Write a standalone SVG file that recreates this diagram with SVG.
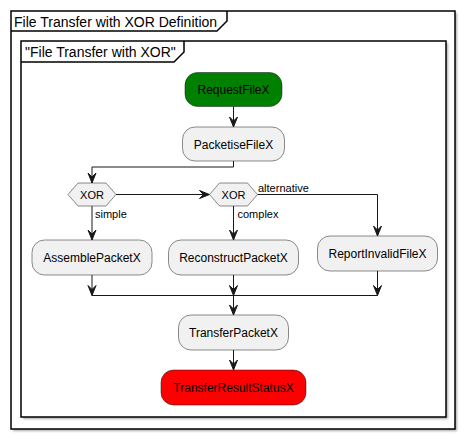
<svg xmlns="http://www.w3.org/2000/svg" width="466" height="439" viewBox="0 0 466 439">
<style>
.frame{fill:#FFFFFF;stroke:#000000;stroke-width:1.5}
.shadow{fill:#888888;opacity:0.7}
.tab{fill:none;stroke:#000000;stroke-width:1.5}
.ttl{font-family:"Liberation Sans",Arial,sans-serif;font-size:14px;fill:#000000}
.box{fill:#F1F1F1;stroke:#181818;stroke-width:0.5}
.lbl{font-family:"Liberation Sans",Arial,sans-serif;font-size:12px;fill:#000000;text-anchor:middle}
.small{font-family:"Liberation Sans",Arial,sans-serif;font-size:11px;fill:#000000}
.line{fill:none;stroke:#181818;stroke-width:1}
.head{fill:#181818;stroke:#181818;stroke-width:1}
</style>
<defs>
<filter id="blur" x="-5%" y="-5%" width="110%" height="110%"><feGaussianBlur stdDeviation="1"/></filter>
</defs>
<rect width="466" height="439" fill="#FFFFFF"/>
<g id="frame-outer">
<rect class="shadow" x="13" y="13" width="444" height="418" filter="url(#blur)"/>
<rect class="frame" x="11" y="11" width="444" height="418"/>
<path class="tab" d="M11,31 L217,31 L227,21 L227,11"/>
<text class="ttl" x="14" y="27">File Transfer with XOR Definition</text>
</g>
<g id="frame-inner">
<rect class="shadow" x="23" y="43" width="425" height="376" filter="url(#blur)"/>
<rect class="frame" x="21" y="41" width="425" height="376"/>
<path class="tab" d="M21,62 L174,62 L184,52 L184,41"/>
<text class="ttl" x="25" y="57">"File Transfer with XOR"</text>
</g>
<g id="connectors">
<path class="line" d="M233.5,106.5 L233.5,127"/>
<polygon class="head" points="229.5,117 233.5,127 237.5,117 233.5,121"/>
<path class="line" d="M233.5,161 L233.5,167 L92,167 L92,183"/>
<polygon class="head" points="88,173 92,183 96,173 92,177"/>
<path class="line" d="M116,194.5 L209.5,194.5"/>
<polygon class="head" points="199.5,190.5 209.5,194.5 199.5,198.5 203.5,194.5"/>
<path class="line" d="M92,206 L92,240"/>
<polygon class="head" points="88,230 92,240 96,230 92,234"/>
<path class="line" d="M233.5,206 L233.5,240"/>
<polygon class="head" points="229.5,230 233.5,240 237.5,230 233.5,234"/>
<path class="line" d="M257.5,194.5 L377.5,194.5 L377.5,236"/>
<polygon class="head" points="373.5,226 377.5,236 381.5,226 377.5,230"/>
<path class="line" d="M92,275 L92,295.5"/>
<polygon class="head" points="88,285.5 92,295.5 96,285.5 92,289.5"/>
<path class="line" d="M233.5,275 L233.5,295.5"/>
<polygon class="head" points="229.5,285.5 233.5,295.5 237.5,285.5 233.5,289.5"/>
<path class="line" d="M377.5,271 L377.5,295.5"/>
<polygon class="head" points="373.5,285.5 377.5,295.5 381.5,285.5 377.5,289.5"/>
<path class="line" d="M92,295.5 L377.5,295.5"/>
<path class="line" d="M233.5,295.5 L233.5,315"/>
<polygon class="head" points="229.5,305 233.5,315 237.5,305 233.5,309"/>
<path class="line" d="M233.5,350 L233.5,370"/>
<polygon class="head" points="229.5,360 233.5,370 237.5,360 233.5,364"/>
<text class="small" x="95" y="218">simple</text>
<text class="small" x="237.5" y="218">complex</text>
<text class="small" x="258" y="192">alternative</text>
</g>
<g id="RequestFileX">
<rect x="185" y="72.5" width="97" height="34" rx="12.5" ry="12.5" fill="#008000" stroke="#181818" stroke-width="0.5"/>
<text class="lbl" x="233.5" y="94">RequestFileX</text>
</g>
<g id="PacketiseFileX">
<rect class="box" x="182.5" y="127" width="102" height="34" rx="12.5" ry="12.5"/>
<text class="lbl" x="233.5" y="148.5">PacketiseFileX</text>
</g>
<g id="XOR1">
<polygon class="box" points="68,194.5 78,183 106,183 116,194.5 106,206 78,206"/>
<text class="small" x="92" y="198.5" text-anchor="middle">XOR</text>
</g>
<g id="XOR2">
<polygon class="box" points="209.5,194.5 219.5,183 247.5,183 257.5,194.5 247.5,206 219.5,206"/>
<text class="small" x="233.5" y="198.5" text-anchor="middle">XOR</text>
</g>
<g id="AssemblePacketX">
<rect class="box" x="32" y="240" width="120" height="35" rx="12.5" ry="12.5"/>
<text class="lbl" x="92" y="262">AssemblePacketX</text>
</g>
<g id="ReconstructPacketX">
<rect class="box" x="168.5" y="240" width="130" height="35" rx="12.5" ry="12.5"/>
<text class="lbl" x="233.5" y="262">ReconstructPacketX</text>
</g>
<g id="ReportInvalidFileX">
<rect class="box" x="317.5" y="236" width="120" height="35" rx="12.5" ry="12.5"/>
<text class="lbl" x="377.5" y="258">ReportInvalidFileX</text>
</g>
<g id="TransferPacketX">
<rect class="box" x="178.5" y="315" width="110" height="35" rx="12.5" ry="12.5"/>
<text class="lbl" x="233.5" y="337">TransferPacketX</text>
</g>
<g id="TransferResultStatusX">
<rect x="161" y="370" width="145" height="35" rx="12.5" ry="12.5" fill="#FF0000" stroke="#181818" stroke-width="0.5"/>
<text class="lbl" x="233.5" y="392">TransferResultStatusX</text>
</g>
</svg>
